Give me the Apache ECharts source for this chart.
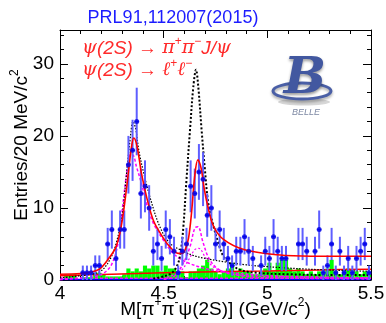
<!DOCTYPE html>
<html><head><meta charset="utf-8">
<script src="https://cdn.jsdelivr.net/npm/echarts@6/dist/echarts.min.js"></script>
<style>html,body{margin:0;padding:0;background:#fff}#c{width:386px;height:323px}</style>
</head><body><div id="c"></div>
<script>
// ---- data ----
const binLow = 4.0;          // GeV/c^2
const binWidth = 0.02;       // 20 MeV bins
const dataCounts = [
  0,0,0,0,0, 1,1,1,2,2,
  0,5,7,3,7, 7,16,18,22,12,
  13,10,4,5,3, 7,6,4,1,4,
  5,13,12,15,14, 9,10,5,7,5,
  3,2,4,4,6, 4,3,0,2,4,
  3,6,4,3,3, 0,0,5,5,4,
  0,4,7,1,2, 5,1,4,1,3,
  1,3,4,5,1
];
const sidebandCounts = [
  0,0.8,0.8,0.8,0, 0.4,0.4,0.4,1.0,1.0,
  0.8,0.5,0.5,0.5,0.5, 0.8,1.6,1.2,1.6,1.2,
  2.0,1.6,2.0,2.0,1.2, 2.0,1.6,1.6,1.2,1.2,
  0.4,1.2,1.2,1.6,2.0, 2.8,1.6,1.2,0.8,1.2,
  1.6,2.4,1.2,1.6,1.2, 1.2,0.8,0.8,1.2,1.6,
  2.4,1.2,2.4,2.8,2.8, 1.6,1.2,1.6,1.2,0.8,
  1.2,0.8,1.2,0.8,1.6, 2.8,1.2,0.8,1.2,1.6,
  0.8,1.2,0.8,1.2,0.8
];
const xTickLabels = ['4', '4.5', '5', '5.5'];
const yTickLabels = ['0', '10', '20', '30'];
// fit curves [mass, entries]
const fitTotal = [[4.00,0.8],[4.10,0.9],[4.15,1.1],[4.19,1.5],[4.23,2.8],[4.27,4.6],[4.295,7.4],[4.32,12.5],[4.345,18.5],[4.356,19.7],[4.372,18.5],[4.393,14.8],[4.417,11.6],[4.45,8.3],[4.49,6.2],[4.53,4.6],[4.57,3.7],[4.59,3.7],[4.605,4.3],[4.62,5.8],[4.635,9.5],[4.65,14.5],[4.665,16.7],[4.68,15.6],[4.695,12.8],[4.71,10.6],[4.74,7.5],[4.79,5.6],[4.89,4.2],[5.05,3.5],[5.21,3.3],[5.5,3.3]];
const fitBackground = [[4.0,0.6],[4.25,0.8],[4.5,1.0],[4.75,1.15],[5.0,1.25],[5.25,1.4],[5.5,1.5]];
const sol2Y4660 = [[4.45,0.2],[4.50,0.5],[4.54,1.0],[4.565,2.0],[4.58,3.5],[4.594,7],[4.61,13.9],[4.627,20.8],[4.643,26.8],[4.656,29.2],[4.667,26.8],[4.683,20.8],[4.699,15.3],[4.715,10.7],[4.74,7.5],[4.763,5.2],[4.788,3.3],[4.82,2.3],[4.87,1.4],[4.95,1.0],[5.1,0.8],[5.3,0.7],[5.5,0.7]];
const sol2Y4360 = [[4.0,0.3],[4.15,0.8],[4.2,1.3],[4.24,2.8],[4.27,5],[4.30,9],[4.32,14.5],[4.34,20],[4.352,22],[4.365,21],[4.38,18],[4.40,15.3],[4.433,11.6],[4.48,7.5],[4.53,5.1],[4.594,4],[4.643,3.4],[4.7,3.0],[4.8,2.5],[4.9,2.1],[5.0,1.85],[5.2,1.5],[5.5,1.2]];
const sol1Y4360 = [[4.0,0.05],[4.15,0.4],[4.207,0.9],[4.248,2.1],[4.28,5.1],[4.30,9.7],[4.32,14.5],[4.336,17.3],[4.35,17.4],[4.369,15.7],[4.393,13.4],[4.417,10.6],[4.45,7.9],[4.497,5.6],[4.546,3.7],[4.6,2.6],[4.7,1.6],[4.8,1.1],[5.0,0.6],[5.5,0.3]];
const sol1Y4660 = [[4.5,0.1],[4.55,0.5],[4.594,2.3],[4.627,4.6],[4.65,7.2],[4.665,7.4],[4.69,5.2],[4.715,3.2],[4.75,1.8],[4.8,1.0],[4.9,0.5],[5.0,0.3],[5.5,0.15]];
const sol3Y4660 = [[4.5,0.2],[4.58,1.2],[4.62,2.8],[4.65,4.2],[4.67,4.4],[4.70,3.2],[4.74,1.8],[4.8,1.1],[4.9,0.6],[5.5,0.3]];
const interference = [[4.0,0.25],[5.5,0.25]];
const baseline = [[4.0,0.08],[5.5,0.08]];

// ---- build ----
const pts = [], errs = [], side = [];
dataCounts.forEach((n, i) => {
  const x = binLow + (i + 0.5) * binWidth;
  if (n > 0) { pts.push([x, n]); errs.push([x, n, Math.sqrt(n)]); }
  side.push([x, sidebandCounts[i]]);
});

const chart = echarts.init(document.getElementById('c'), null, {renderer: 'canvas'});
const FONT = 'Liberation Sans';
function curve(data, color, width, type, z) {
  return {type: 'line', data, smooth: 0.35, showSymbol: false, symbol: 'none', z: z || 3,
    lineStyle: {color, width, type}, xAxisIndex: 0, yAxisIndex: 0, animation: false, silent: true};
}
const axisCommon = {
  axisLine: {show: true, onZero: false, lineStyle: {color: '#000', width: 1}},
  axisTick: {show: true, inside: true, length: 8, lineStyle: {color: '#000', width: 1}},
  minorTick: {show: true, splitNumber: 5, length: 4, lineStyle: {color: '#000', width: 1}},
  splitLine: {show: false}
};
chart.setOption({
  animation: false,
  title: {text: 'PRL91,112007(2015)', left: 168, top: 4, textAlign: 'center',
    textStyle: {color: '#1c1cff', fontSize: 18, fontWeight: 'normal', fontFamily: FONT}},
  grid: {left: 60, right: 15, top: 30, bottom: 43, containLabel: false, outerBoundsMode: 'none'},
  xAxis: [
    Object.assign({type: 'value', min: 4, max: 5.5, interval: 0.5, position: 'bottom',
      axisLabel: {fontSize: 19, color: '#000', fontFamily: FONT, margin: 4,
        formatter: v => xTickLabels[Math.round((v - 4) / 0.5)] || ''},
      name: '{t|M[π}{s|+}{t|π}{s|-}{t|ψ(2S)] (GeV/c}{s|2}{t|)}', nameLocation: 'middle', nameGap: 17,
      nameMoveOverlap: false,
      nameTextStyle: {rich: {
        t: {fontSize: 19, color: '#000', fontFamily: FONT, lineHeight: 22, verticalAlign: 'bottom'},
        s: {fontSize: 12, color: '#000', fontFamily: FONT, lineHeight: 22, verticalAlign: 'top'}}}
    }, axisCommon),
    Object.assign({type: 'value', min: 4, max: 5.5, interval: 0.5, position: 'top',
      axisLabel: {show: false}}, axisCommon)
  ],
  yAxis: [
    Object.assign({type: 'value', min: 0, max: 34.7, interval: 10, position: 'left',
      axisLabel: {fontSize: 19, color: '#000', fontFamily: FONT, margin: 6, showMaxLabel: false,
        formatter: v => yTickLabels[Math.round(v / 10)] || ''}}, axisCommon),
    Object.assign({type: 'value', min: 0, max: 34.7, interval: 10, position: 'right',
      axisLabel: {show: false}}, axisCommon)
  ],
  graphic: [
    {type: 'text', x: 20, y: 145, rotation: Math.PI / 2,
      style: {text: '{t|Entries/20 MeV/c}{s|2}', align: 'center', verticalAlign: 'middle',
        rich: {t: {fontSize: 19, fontFamily: FONT, fill: '#000', lineHeight: 22, verticalAlign: 'bottom'},
               s: {fontSize: 12, fontFamily: FONT, fill: '#000', lineHeight: 22, verticalAlign: 'top'}}}},
    {type: 'text', x: 82, y: 47,
      style: {text: '{g|ψ}{t|(2S) → }{g|π}{s|+}{g|π}{s|−}{t|J/}{g|ψ}', verticalAlign: 'middle',
        rich: {t: {fontSize: 19, fontFamily: FONT, fontStyle: 'italic', fill: '#ff2a2a', lineHeight: 22, verticalAlign: 'bottom'},
               g: {fontSize: 19, fontFamily: 'DejaVu Serif', fontStyle: 'italic', fill: '#ff2a2a', lineHeight: 22, verticalAlign: 'bottom'},
               s: {fontSize: 12, fontFamily: FONT, fill: '#ff2a2a', lineHeight: 22, verticalAlign: 'top'}}}},
    {type: 'text', x: 82, y: 69,
      style: {text: '{g|ψ}{t|(2S) → }{g|ℓ}{s|+}{g|ℓ}{s|−}', verticalAlign: 'middle',
        rich: {t: {fontSize: 19, fontFamily: FONT, fontStyle: 'italic', fill: '#ff2a2a', lineHeight: 22, verticalAlign: 'bottom'},
               g: {fontSize: 19, fontFamily: 'DejaVu Serif', fontStyle: 'italic', fill: '#ff2a2a', lineHeight: 22, verticalAlign: 'bottom'},
               s: {fontSize: 12, fontFamily: FONT, fill: '#ff2a2a', lineHeight: 22, verticalAlign: 'top'}}}},
    // Belle logo
    {type: 'ellipse', shape: {cx: 304, cy: 102, rx: 26, ry: 3.5}, style: {fill: 'rgba(140,140,140,0.35)'}, z: 1},
    {type: 'ellipse', shape: {cx: 302, cy: 91, rx: 29, ry: 8}, style: {fill: null, stroke: '#4a5fa6', lineWidth: 3,
      shadowColor: 'rgba(0,0,0,0.35)', shadowBlur: 3, shadowOffsetY: 2}, z: 2},
    {type: 'text', x: 305, y: 80, z: 3,
      style: {text: 'B', fontSize: 50, fontFamily: 'DejaVu Serif', fontStyle: 'italic', fontWeight: 'bold',
        fill: '#4258a0', align: 'center', verticalAlign: 'middle',
        textShadowColor: 'rgba(0,0,0,0.4)', textShadowBlur: 3, textShadowOffsetY: 2}},
    {type: 'text', x: 306, y: 112, z: 3,
      style: {text: 'BELLE', fontSize: 9, fontFamily: FONT, fontStyle: 'italic', fill: '#7d88a3',
        align: 'center', verticalAlign: 'middle'}}
  ],
  series: [
    {type: 'custom', data: side, z: 1, clip: true, silent: true,
      renderItem: (p, api) => {
        const x = api.value(0), h = api.value(1);
        const a = api.coord([x - binWidth / 2, h]), b = api.coord([x + binWidth / 2, 0]);
        return {type: 'rect', shape: {x: a[0], y: a[1], width: b[0] - a[0], height: b[1] - a[1]},
          style: {fill: '#00ff00'}};
      }},
    curve(baseline, '#0000ff', 1.5, 'solid', 2),
    curve(interference, '#ff00ff', 1.5, [3, 2], 2),
    curve(fitBackground, '#ff0000', 1.5, 'solid', 3),
    curve(sol1Y4360, '#ff00ff', 1.5, [3, 2], 3),
    curve(sol1Y4660, '#ff00ff', 1.5, [3, 2], 3),
    curve(sol3Y4660, '#ff00ff', 1.2, [2, 2], 3),
    curve(sol2Y4360, '#000000', 1.2, [1.5, 1.5], 3),
    curve(sol2Y4660, '#000000', 2, [2, 2], 3),
    {type: 'custom', data: errs, z: 4, clip: true, silent: true,
      renderItem: (p, api) => {
        const x = api.value(0), y = api.value(1), e = api.value(2);
        const t = api.coord([x, y + e]), b = api.coord([x, Math.max(0, y - e)]);
        const l = api.coord([x - binWidth / 2, y]), r = api.coord([x + binWidth / 2, y]);
        return {type: 'group', children: [
          {type: 'line', shape: {x1: t[0], y1: t[1], x2: b[0], y2: b[1]}, style: {stroke: '#5e5eff', lineWidth: 2}},
          {type: 'line', shape: {x1: l[0], y1: l[1], x2: r[0], y2: r[1]}, style: {stroke: '#1010ff', lineWidth: 1.5}}
        ]};
      }},
    curve(fitTotal, '#ff0000', 1.6, 'solid', 5),
    {type: 'scatter', data: pts, symbol: 'circle', symbolSize: 5, z: 6, silent: true,
      itemStyle: {color: '#0000e6'}}
  ]
});
</script></body></html>
